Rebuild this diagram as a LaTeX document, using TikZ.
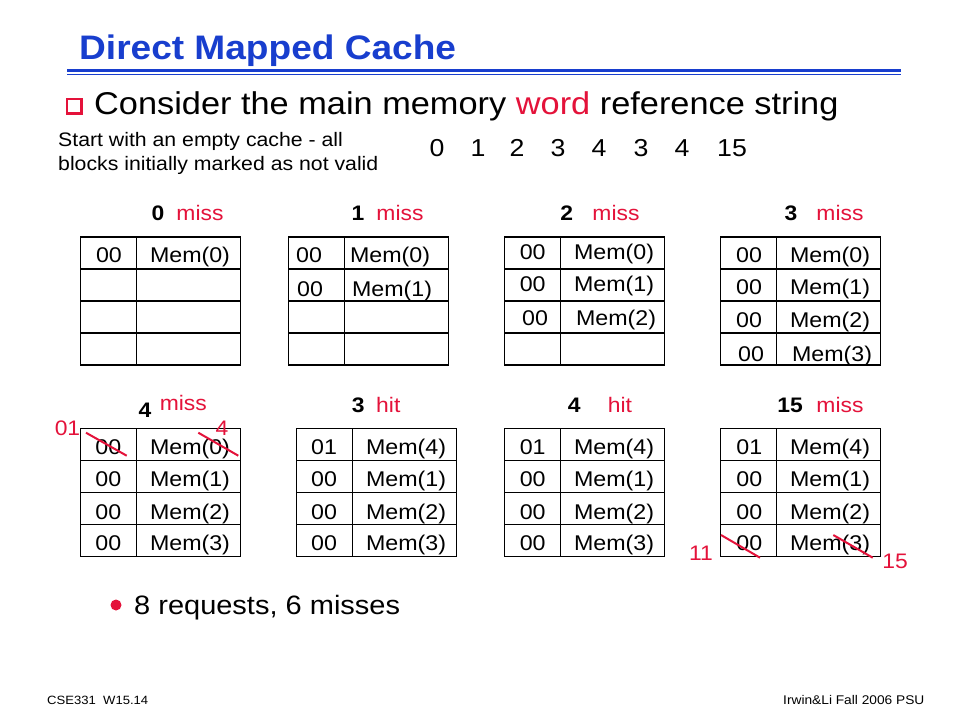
\documentclass[tikz,border=0pt]{standalone}
\usepackage{fontspec}
\setmainfont[FakeStretch=1.09]{Liberation Sans}
\definecolor{tblue}{RGB}{24,62,206}
\definecolor{tred}{RGB}{228,18,58}
\tikzset{
  gridline/.style={line width=1.2pt, black},
  cell/.style={inner sep=0pt, font=\fontsize{21.3}{24}\selectfont, text height=15.3pt, text depth=0pt},
  lbl/.style={inner sep=0pt, font=\fontsize{21}{24}\selectfont, text height=15pt, text depth=0pt},
  redlbl/.style={inner sep=0pt, text=tred, font=\fontsize{21}{24}\selectfont, text height=15pt, text depth=0pt},
  strike/.style={tred, line width=2pt},
  refnum/.style={inner sep=0pt, font=\fontsize{24.5}{28}\selectfont, text height=17.5pt, text depth=0pt},
}
\newcommand{\cachegrid}[3]{% x0, y0, divider x
  \draw[gridline] (#1,#2) rectangle ++(160,128);
  \draw[gridline] (#1,#2+32) -- ++(160,0);
  \draw[gridline] (#1,#2+64) -- ++(160,0);
  \draw[gridline] (#1,#2+96) -- ++(160,0);
  \draw[gridline] (#3,#2) -- ++(0,128);
}
\begin{document}
\begin{tikzpicture}[x=1pt,y=-1pt]
\useasboundingbox (0,0) rectangle (960,720);
\fill[white] (0,0) rectangle (960,720);

% title
\node[anchor=west, inner sep=0pt, text=tblue, font=\fontsize{34}{38}\selectfont\bfseries, text height=24.3pt, text depth=0pt] (title) at (79,47) {Direct Mapped Cache};
\draw[tblue, line width=3.3pt] (67,70.7) -- (901,70.7);
\draw[tblue, line width=1pt] (67,74) -- (901,74);

% bullet square
\fill[tred] (66,98) rectangle (83,115);
\fill[white] (67.6,99.6) rectangle (79.5,111.5);
\node[anchor=west, inner sep=0pt, font=\fontsize{31.5}{36}\selectfont, text height=22.6pt, text depth=0pt] (consider) at (94,103.4) {Consider the main memory \textcolor{tred}{word} reference string};

\node[anchor=base west, inner sep=0pt, font=\fontsize{19.5}{22}\selectfont] (start1) at (58,146) {Start with an empty cache - all};
\node[anchor=base west, inner sep=0pt, font=\fontsize{19.5}{22}\selectfont] (start2) at (58,170) {blocks initially marked as not valid};

% reference string
\node[refnum] (r1) at (437,147.5) {0};
\node[refnum] (r2) at (478,147.5) {1};
\node[refnum] (r3) at (517,147.5) {2};
\node[refnum] (r4) at (558,147.5) {3};
\node[refnum] (r5) at (599,147.5) {4};
\node[refnum] (r6) at (641,147.5) {3};
\node[refnum] (r7) at (682,147.5) {4};
\node[refnum] (r8) at (732,147.5) {15};

% grids
\cachegrid{80.5}{237}{136.5}
\cachegrid{288.5}{237}{344.5}
\cachegrid{504.5}{237}{560.5}
\cachegrid{720.5}{237}{776.5}
\cachegrid{80.5}{428.5}{136.5}
\cachegrid{296.5}{428.5}{352.5}
\cachegrid{504.5}{428.5}{560.5}
\cachegrid{720.5}{428.5}{776.5}

% top labels
\node[lbl, font=\fontsize{21}{24}\selectfont\bfseries] (l1n) at (158,212.7) {0};
\node[lbl, text=tred] (l1m) at (200,212.7) {miss};
\node[lbl, font=\fontsize{21}{24}\selectfont\bfseries] (l2n) at (358,212.7) {1};
\node[lbl, text=tred] (l2m) at (400,212.7) {miss};
\node[lbl, font=\fontsize{21}{24}\selectfont\bfseries] (l3n) at (566.7,212.7) {2};
\node[lbl, text=tred] (l3m) at (616,212.7) {miss};
\node[lbl, font=\fontsize{21}{24}\selectfont\bfseries] (l4n) at (791,212.7) {3};
\node[lbl, text=tred] (l4m) at (840,212.7) {miss};

% bottom labels
\node[lbl, font=\fontsize{21}{24}\selectfont\bfseries] (l5n) at (145,410) {4};
\node[lbl, text=tred] (l5m) at (183.3,403.3) {miss};
\node[lbl, font=\fontsize{21}{24}\selectfont\bfseries] (l6n) at (358.3,405) {3};
\node[lbl, text=tred] (l6m) at (388.3,405) {hit};
\node[lbl, font=\fontsize{21}{24}\selectfont\bfseries] (l7n) at (574.3,405) {4};
\node[lbl, text=tred] (l7m) at (620,405) {hit};
\node[lbl, font=\fontsize{21}{24}\selectfont\bfseries] (l8n) at (790,405) {15};
\node[lbl, text=tred] (l8m) at (840,405) {miss};

% grid 1
\node[cell] (g1a) at (109,255) {00};
\node[cell] (g1b) at (190,255) {Mem(0)};
% grid 2
\node[cell] (g2a) at (309,255) {00};
\node[cell] (g2b) at (390,255) {Mem(0)};
\node[cell] (g2c) at (310,289) {00};
\node[cell] (g2d) at (392,289) {Mem(1)};
% grid 3
\node[cell] (g3a) at (532.7,251.5) {00};
\node[cell] (g3b) at (614,251.5) {Mem(0)};
\node[cell] (g3c) at (532.7,283.5) {00};
\node[cell] (g3d) at (614,283.5) {Mem(1)};
\node[cell] (g3e) at (535,318) {00};
\node[cell] (g3f) at (616,318) {Mem(2)};
% grid 4
\node[cell] (g4a) at (749,255) {00};
\node[cell] (g4b) at (830,255) {Mem(0)};
\node[cell] (g4c) at (749,287) {00};
\node[cell] (g4d) at (830,287) {Mem(1)};
\node[cell] (g4e) at (749,319.5) {00};
\node[cell] (g4f) at (830,319.5) {Mem(2)};
\node[cell] (g4g) at (751,354) {00};
\node[cell] (g4h) at (832,354) {Mem(3)};
% grid 5
\node[cell] (g5a) at (108.3,446.7) {00};
\node[cell] (g5b) at (190,446.7) {Mem(0)};
\node[cell] (g5c) at (108.3,479.3) {00};
\node[cell] (g5d) at (190,479.3) {Mem(1)};
\node[cell] (g5e) at (108.3,511.5) {00};
\node[cell] (g5f) at (190,511.5) {Mem(2)};
\node[cell] (g5g) at (108.3,543.3) {00};
\node[cell] (g5h) at (190,543.3) {Mem(3)};
% grid 6
\node[cell] (g6a) at (324,446.7) {01};
\node[cell] (g6b) at (406,446.7) {Mem(4)};
\node[cell] (g6c) at (324,479.3) {00};
\node[cell] (g6d) at (406,479.3) {Mem(1)};
\node[cell] (g6e) at (324,511.5) {00};
\node[cell] (g6f) at (406,511.5) {Mem(2)};
\node[cell] (g6g) at (324,543.3) {00};
\node[cell] (g6h) at (406,543.3) {Mem(3)};
% grid 7
\node[cell] (g7a) at (532.7,446.7) {01};
\node[cell] (g7b) at (614,446.7) {Mem(4)};
\node[cell] (g7c) at (532.7,479.3) {00};
\node[cell] (g7d) at (614,479.3) {Mem(1)};
\node[cell] (g7e) at (532.7,511.5) {00};
\node[cell] (g7f) at (614,511.5) {Mem(2)};
\node[cell] (g7g) at (532.7,543.3) {00};
\node[cell] (g7h) at (614,543.3) {Mem(3)};
% grid 8
\node[cell] (g8a) at (749.3,446.7) {01};
\node[cell] (g8b) at (830,446.7) {Mem(4)};
\node[cell] (g8c) at (749.3,479.3) {00};
\node[cell] (g8d) at (830,479.3) {Mem(1)};
\node[cell] (g8e) at (749.3,511.5) {00};
\node[cell] (g8f) at (830,511.5) {Mem(2)};
\node[cell] (g8g) at (749.3,543.3) {00};
\node[cell] (g8h) at (830,543.3) {Mem(3)};

% red corrections
\node[redlbl] (c01) at (67.5,427.5) {01};
\node[redlbl] (c4) at (222,427.5) {4};
\node[redlbl] (c11) at (701,553) {11};
\node[redlbl] (c15) at (895,561) {15};
\coordinate (s1a) at (86,432.7);   \coordinate (s1b) at (126.7,455.7);
\coordinate (s2a) at (198.3,432.7); \coordinate (s2b) at (238.3,455.7);
\coordinate (s3a) at (721,535);    \coordinate (s3b) at (760,557.7);
\coordinate (s4a) at (833.3,535);  \coordinate (s4b) at (872.7,557.7);
\draw[strike] (s1a) -- (s1b);
\draw[strike] (s2a) -- (s2b);
\draw[strike] (s3a) -- (s3b);
\draw[strike] (s4a) -- (s4b);

% summary bullet
\fill[tred] (116,605) circle (5.5);
\node[anchor=west, inner sep=0pt, font=\fontsize{26.6}{30}\selectfont, text height=19pt, text depth=0pt] (summary) at (134,605) {8 requests, 6 misses};

% footer
\node[anchor=west, inner sep=0pt, font=\fontsize{12}{14}\selectfont, text height=8.6pt, text depth=0pt] (footl) at (47,700) {CSE331\ \ W15.14};
\node[anchor=west, inner sep=0pt, font=\fontsize{12.6}{14}\selectfont, text height=9pt, text depth=0pt] (footr) at (783,700) {Irwin\&Li Fall 2006 PSU};
\end{tikzpicture}
\end{document}
